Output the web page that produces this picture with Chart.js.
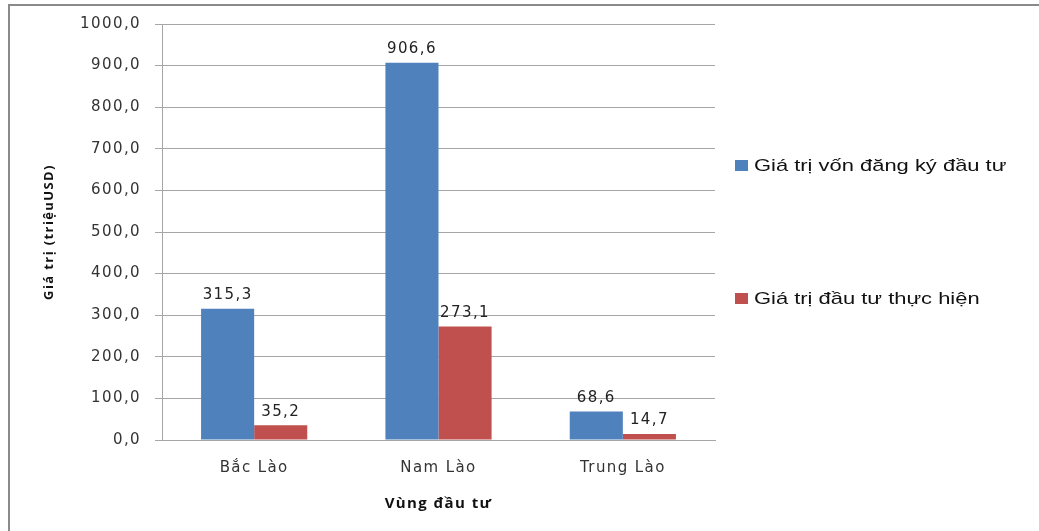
<!DOCTYPE html>
<html>
<head>
<meta charset="utf-8">
<script src="https://cdn.jsdelivr.net/npm/chart.js@4/dist/chart.umd.min.js"></script>
<style>
  html, body { margin: 0; padding: 0; background: #fff; }
  #wrap { position: relative; width: 1039px; height: 531px; overflow: hidden; }
  #frame { position: absolute; left: 8px; top: 4px; width: 1100px; height: 600px;
           border-left: 2px solid #8a8a8a; border-top: 2px solid #8a8a8a; }
  canvas { position: absolute; left: 0; top: 0; }
  .leg { position: absolute; left: 735px; font: 17px "Liberation Sans", Arial, sans-serif; color: #111; white-space: nowrap; }
  .leg .sw { display: inline-block; width: 13px; height: 11px; margin-right: 6px; vertical-align: 0px; }
  .leg .tx { display: inline-block; transform: scaleX(1.29); transform-origin: 0 50%; }
</style>
</head>
<body>
<div id="wrap">
  <div id="frame"></div>
  <canvas id="c" width="1039" height="531"></canvas>
  <div id="legend"></div>
</div>
<script>
// Regions and investment values (million USD)
const regions = ['Bắc Lào', 'Nam Lào', 'Trung Lào'];
const registeredCapital = [315.3, 906.6, 68.6];
const realizedInvestment = [35.2, 273.1, 14.7];
const seriesNames = ['Giá trị vốn đăng ký đầu tư', 'Giá trị đầu tư thực hiện'];
const seriesColors = ['#4F81BD', '#C0504D'];
const yTicks = { min: 0, max: 1000, step: 100 };

const fmt = v => v.toFixed(1).replace('.', ',');

// Slightly wide lettering for all canvas text
const wideText = {
  id: 'wideText',
  beforeLayout(chart) { chart.ctx.letterSpacing = '1.4px'; },
  beforeDraw(chart) { chart.ctx.letterSpacing = '1.4px'; }
};

// Value labels above each bar
const barValueLabels = {
  id: 'barValueLabels',
  afterDatasetsDraw(chart) {
    const ctx = chart.ctx;
    ctx.save();
    ctx.font = '15px "DejaVu Sans", Verdana, sans-serif';
    ctx.fillStyle = '#222';
    ctx.textAlign = 'center';
    ctx.textBaseline = 'bottom';
    chart.data.datasets.forEach((ds, i) => {
      chart.getDatasetMeta(i).data.forEach((bar, j) => {
        ctx.fillText(fmt(ds.data[j]), bar.x, bar.y - 6);
      });
    });
    ctx.restore();
  }
};

const chart = new Chart(document.getElementById('c'), {
  type: 'bar',
  data: {
    labels: regions,
    datasets: [
      { label: seriesNames[0], data: registeredCapital, backgroundColor: seriesColors[0] },
      { label: seriesNames[1], data: realizedInvestment, backgroundColor: seriesColors[1] }
    ]
  },
  options: {
    responsive: false,
    devicePixelRatio: 1,
    animation: false,
    layout: { padding: { left: 41, right: 324, top: 24, bottom: 14 } },
    datasets: { bar: { categoryPercentage: 0.576, barPercentage: 1.0 } },
    plugins: { legend: { display: false }, tooltip: { enabled: false } },
    scales: {
      x: {
        grid: { display: false, drawTicks: false },
        border: { display: true, color: '#a6a6a6', width: 1 },
        ticks: { color: '#333', padding: 19, font: { family: '"DejaVu Sans", Verdana, sans-serif', size: 15 } },
        title: { display: true, text: 'Vùng đầu tư', color: '#111',
                 font: { family: '"Open Sans", sans-serif', size: 15, weight: 'bold' }, padding: { top: 14 } },
        afterFit(s) { s.height = 77; }
      },
      y: {
        min: yTicks.min, max: yTicks.max,
        grid: { color: '#a6a6a6', tickLength: 7, lineWidth: 1 },
        border: { display: true, color: '#a6a6a6', width: 1 },
        ticks: { stepSize: yTicks.step, color: '#333', padding: 14,
                 font: { family: '"DejaVu Sans", Verdana, sans-serif', size: 15 },
                 callback: v => fmt(v) },
        title: { display: true, text: 'Giá trị (triệuUSD)', color: '#111',
                 font: { family: '"Open Sans", sans-serif', size: 13, weight: 'bold' }, padding: 0 },
        afterFit(s) { s.width = 121; }
      }
    }
  },
  plugins: [wideText, barValueLabels]
});

// Legend built from the chart's datasets
const legendTops = [156, 289];
const legendEl = document.getElementById('legend');
chart.data.datasets.forEach((ds, i) => {
  const d = document.createElement('div');
  d.className = 'leg';
  d.style.top = legendTops[i] + 'px';
  d.innerHTML = '<span class="sw" style="background:' + ds.backgroundColor + '"></span><span class="tx">' + ds.label + '</span>';
  legendEl.appendChild(d);
});
</script>
</body>
</html>
